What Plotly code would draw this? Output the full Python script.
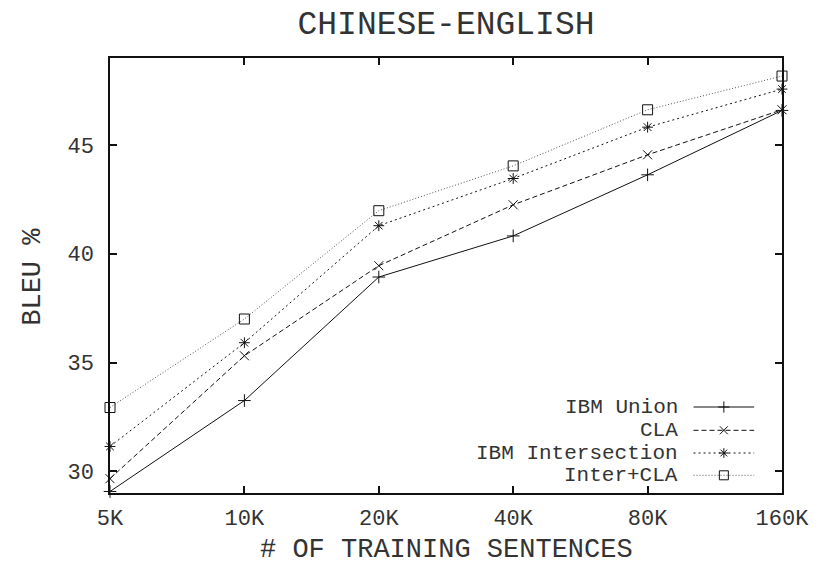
import plotly.graph_objects as go

# Training-set sizes (evenly spaced on the x axis)
sizes = ["5K", "10K", "20K", "40K", "80K", "160K"]

# BLEU % for each alignment method
ibm_union = [29.07, 33.25, 38.93, 40.82, 43.63, 46.59]
cla = [29.66, 35.31, 39.45, 42.25, 44.55, 46.62]
ibm_intersection = [31.14, 35.91, 41.29, 43.46, 45.82, 47.57]
inter_cla = [32.93, 37.00, 41.98, 44.04, 46.62, 48.17]

series_names = ["IBM Union", "CLA", "IBM Intersection", "Inter+CLA"]
series_values = [ibm_union, cla, ibm_intersection, inter_cla]
dashes = ["solid", "5px,3px", "2px,3px", "1px,2px"]
symbols = ["cross-thin", "x-thin", "asterisk", "square-open"]
line_colors = ["#111", "#111", "#111", "#555"]
marker_sizes = [9, 9, 9, 10]

FONT = "Liberation Mono"
TXT = "#333"

# plot-area box in pixels (figure is 821 x 564)
L, R, T, B = 110, 786, 57.7, 492.7
W, H = R - L, B - T


def fx(p):
    return (p - L) / W


def fy(p):
    return (B - p) / H


fig = go.Figure()

x_idx = list(range(len(sizes)))
for name, vals, d, s, c, ms in zip(series_names, series_values, dashes,
                                   symbols, line_colors, marker_sizes):
    fig.add_trace(go.Scatter(
        x=x_idx, y=vals, mode="lines+markers", name=name,
        line=dict(color=c, width=1, dash=d),
        marker=dict(symbol=s, size=ms, color="#111",
                    line=dict(color="#111", width=1)),
        cliponaxis=False, showlegend=False,
    ))

# gnuplot-style key: label on the left, line sample on the right
key_rows = [406.7, 430.0, 452.7, 475.0]
annotations = []
for name, d, s, c, ms, row in zip(series_names, dashes, symbols,
                                  line_colors, marker_sizes, key_rows):
    fig.add_trace(go.Scatter(
        x=[fx(697), fx(727.5), fx(758)], y=[fy(row)] * 3,
        xaxis="x2", yaxis="y2", mode="lines",
        line=dict(color=c, width=1, dash=d),
        showlegend=False, hoverinfo="skip",
    ))
    fig.add_trace(go.Scatter(
        x=[fx(727.5)], y=[fy(row)], xaxis="x2", yaxis="y2", mode="markers",
        marker=dict(symbol=s, size=ms - 1, color="#111",
                    line=dict(color="#111", width=1)),
        showlegend=False, hoverinfo="skip", cliponaxis=False,
    ))
    annotations.append(dict(
        x=fx(682), y=fy(row), xref="paper", yref="paper",
        text=name, showarrow=False, xanchor="right", yanchor="middle",
        borderpad=0,
        font=dict(family=FONT, size=21, color=TXT),
    ))

# axis titles
annotations.append(dict(
    x=fx(448), y=fy(550), xref="paper", yref="paper",
    text="# OF TRAINING SENTENCES", showarrow=False,
    xanchor="center", yanchor="middle",
    font=dict(family=FONT, size=27, color=TXT),
))
annotations.append(dict(
    x=fx(33), y=fy(276), xref="paper", yref="paper",
    text="BLEU %", showarrow=False, textangle=-90,
    xanchor="center", yanchor="middle",
    font=dict(family=FONT, size=27, color=TXT),
))

axis_common = dict(
    showline=True, linecolor="#111", linewidth=1.5, mirror="allticks",
    ticks="inside", ticklen=7, tickwidth=1.5, tickcolor="#111",
    showgrid=False, zeroline=False,
    tickfont=dict(family=FONT, size=22, color=TXT),
)

fig.update_layout(
    width=821, height=564,
    margin=dict(l=L, r=821 - R, t=T, b=564 - B),
    paper_bgcolor="white", plot_bgcolor="white",
    title=dict(
        text="CHINESE-ENGLISH", x=0.5, xref="paper",
        y=1 - 22 / 564, yref="container", xanchor="center", yanchor="middle",
        font=dict(family=FONT, size=33, color=TXT),
    ),
    xaxis=dict(range=[0, len(sizes) - 1], tickvals=x_idx, ticktext=sizes,
               ticklabelstandoff=4, **axis_common),
    yaxis=dict(range=[29, 49], tickvals=[30, 35, 40, 45],
               ticklabelstandoff=10, **axis_common),
    xaxis2=dict(range=[0, 1], overlaying="x", visible=False, fixedrange=True),
    yaxis2=dict(range=[0, 1], overlaying="y", visible=False, fixedrange=True),
    annotations=annotations,
    showlegend=False,
)

fig.write_html("out.html")
